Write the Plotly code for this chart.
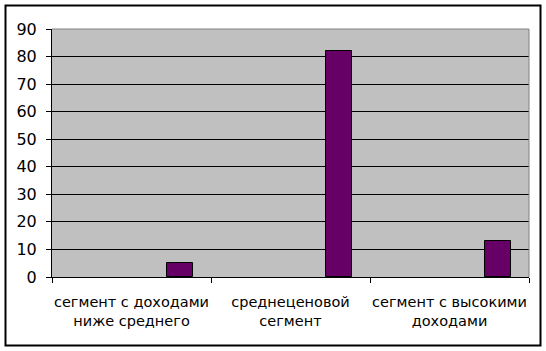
import plotly.graph_objects as go

categories = ["сегмент с доходами<br>ниже среднего", "среднеценовой<br>сегмент", "сегмент с высокими<br>доходами"]
values = [5, 82, 13]
y_ticks = [0, 10, 20, 30, 40, 50, 60, 70, 80, 90]

L, R, T, B = 52, 17, 29, 74
W, H = 546, 351
pw, ph = W - L - R, H - T - B

fig = go.Figure()
fig.add_trace(go.Bar(
    x=categories, y=values,
    marker=dict(color="#660066", line=dict(color="black", width=1)),
    width=0.163, offset=0.224,
    showlegend=False, hoverinfo="skip",
))

fig.update_layout(
    width=W, height=H,
    margin=dict(l=L, r=R, t=T, b=B, autoexpand=False),
    paper_bgcolor="white", plot_bgcolor="#C0C0C0",
    font=dict(family="DejaVu Sans", size=14, color="black"),
    bargap=0,
)
fig.update_xaxes(
    type="category", tickson="boundaries", ticks="outside", ticklen=5,
    tickcolor="black", showline=True, linecolor="black", linewidth=1,
    showgrid=False, tickfont=dict(size=14.5), range=[-0.5, 2.5],
    ticklabelstandoff=12, tickangle=0, automargin=False,
)
fig.update_yaxes(
    range=[0, 90], tickvals=y_ticks, ticks="outside", ticklen=5,
    tickcolor="black", showline=True, linecolor="black", linewidth=1,
    showgrid=True, gridcolor="black", gridwidth=1, zeroline=False,
    tickfont=dict(size=16), ticklabelstandoff=6, automargin=False,
)
# plot-area border (top/right) in grey
fig.add_shape(type="line", xref="paper", yref="paper", x0=0, x1=1, y0=1, y1=1,
              line=dict(color="#808080", width=1), layer="above")
fig.add_shape(type="line", xref="paper", yref="paper", x0=1, x1=1, y0=0, y1=1,
              line=dict(color="#808080", width=1), layer="above")
# outer chart border
fig.add_shape(type="rect", xref="paper", yref="paper",
              x0=(5.5 - L) / pw, x1=(540.5 - L) / pw,
              y0=(H - B - 345.5) / ph, y1=(H - B - 5.5) / ph,
              line=dict(color="black", width=2), layer="above")

fig.write_html("out.html")
